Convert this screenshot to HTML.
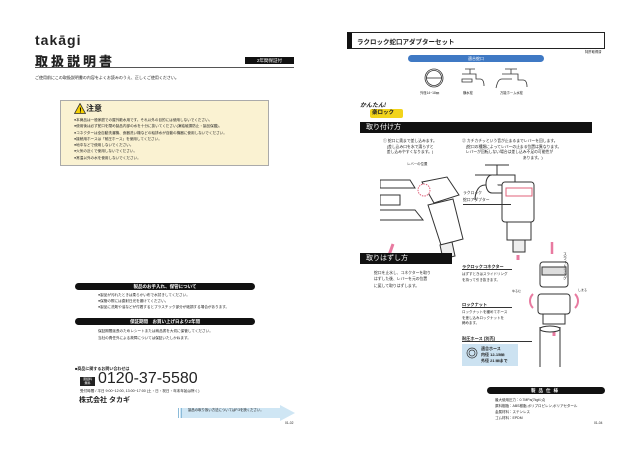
<!DOCTYPE html>
<html><head><meta charset="utf-8"><style>
*{margin:0;padding:0;box-sizing:border-box}
body{width:640px;height:452px;background:#fff;position:relative;overflow:hidden;font-family:"Liberation Sans","Noto Sans CJK JP",sans-serif;color:#222}
.a{position:absolute;white-space:nowrap}
.t{font-size:4px;line-height:5.5px}
.pill{position:absolute;background:#111;color:#fff;border-radius:4px;font-size:4.5px;text-align:center;font-weight:bold}
.bar{position:absolute;background:#111;color:#fff;font-size:7px;padding-left:6px}
</style></head><body>
<!-- LEFT PAGE -->
<div class="a" style="left:35px;top:32px;font-size:14px;font-weight:bold;letter-spacing:1px">takāgi</div>
<div class="a" style="left:35px;top:51px;font-size:13px;font-weight:900;letter-spacing:3px">取扱説明書</div>
<div class="a" style="left:245px;top:57px;width:49px;height:7px;background:#111;color:#fff;font-size:4.5px;text-align:center;line-height:7px">2年間保証付</div>
<div class="a" style="left:35px;top:67px;width:259px;height:1px;background:#555"></div>
<div class="a t" style="left:35px;top:75px">ご使用前にこの取扱説明書の内容をよくお読みのうえ、正しくご使用ください。</div>
<div class="a" style="left:60px;top:100px;width:209px;height:66px;background:#faf2d2;border:1px solid #aaa"></div>
<svg class="a" style="left:74px;top:103px" width="12" height="11"><polygon points="6,0.5 11.5,10.5 0.5,10.5" fill="#f5d000" stroke="#333" stroke-width="0.8"/><text x="5.2" y="9.5" font-size="7" font-weight="bold">!</text></svg>
<div class="a" style="left:86px;top:103px;font-size:8px;font-weight:bold">注意</div>
<div class="a t" style="left:74px;top:117px;font-size:3.6px;line-height:6.3px">●本商品は一般家庭での屋外散水用です。それ以外の目的には使用しないでください。<br>●使用後は必ず蛇口を閉め製品内部の水を十分に抜いてください(凍結破損防止・製品保護)。<br>●コネクターは全自動洗濯機、食器洗い機などの給排水が自動の機器に使用しないでください。<br>●接続用ホースは「耐圧ホース」を使用してください。<br>●地中などで使用しないでください。<br>●火気の近くで使用しないでください。<br>●常温以外の水を使用しないでください。</div>
<div class="pill" style="left:75px;top:283px;width:180px;height:7px;line-height:7px">製品のお手入れ、保管について</div>
<div class="a t" style="left:98px;top:292px;font-size:3.6px;line-height:6px">●製品が汚れたときは柔らかい布で水拭きしてください。<br>●保管の際には直射日光を避けてください。<br>●製品に洗剤や油などが付着するとプラスチック部分が破損する場合があります。</div>
<div class="pill" style="left:75px;top:318px;width:180px;height:7px;line-height:7px">保証期間　お買い上げ日より2年間</div>
<div class="a t" style="left:98px;top:328px;font-size:3.6px;line-height:6.5px">保証期間延長のためレシートまたは納品書を大切に保管してください。<br>当社の責任外による故障については保証いたしかねます。</div>
<div class="a t" style="left:75px;top:366px;font-weight:bold">■商品に関するお問い合わせは</div>
<div class="a" style="left:80px;top:377px;width:15px;height:9px;background:#222;color:#fff;font-size:3px;line-height:4px;text-align:center">通話料<br>無料</div>
<div class="a" style="left:98px;top:370px;font-size:16px">0120-37-5580</div>
<div class="a t" style="left:80px;top:389px;font-size:3.6px">受付時間 / 平日 9:00~12:00, 13:00~17:00 (土・日・祝日・年末年始は除く)</div>
<div class="a" style="left:79px;top:395px;font-size:7px;font-weight:bold">株式会社 タカギ</div>
<svg class="a" style="left:176px;top:405px" width="120" height="16"><polygon points="4,3 104,3 104,0 119,8 104,16 104,13 4,13" fill="#cfe6f4"/><rect x="2" y="3" width="1" height="10" fill="#8bbbd9"/><rect x="5" y="3" width="1" height="10" fill="#8bbbd9"/></svg>
<div class="a t" style="left:188px;top:408px;font-size:3.4px">製品の取り扱い方法についてはP.3を読ください。</div>
<div class="a t" style="left:285px;top:421px;font-size:3.3px">01-02</div>

<!-- RIGHT PAGE -->
<div class="a" style="left:347px;top:32px;width:258px;height:17px;border:1.5px solid #222;border-left:5px solid #111"></div>
<div class="a" style="left:357px;top:36px;font-size:6.5px;font-weight:bold">ラクロック蛇口アダプターセット</div>
<div class="a t" style="left:585px;top:50px;font-size:3.3px">特許取得済</div>
<div class="a" style="left:408px;top:55px;width:136px;height:7px;background:#3f79c4;border-radius:4px;color:#fff;font-size:4px;text-align:center;line-height:7px">適合蛇口</div>
<svg class="a" style="left:420px;top:65px" width="110" height="27" fill="none" stroke="#333" stroke-width="0.8">
<circle cx="14" cy="13" r="9"/><circle cx="14" cy="13" r="7.5"/><line x1="6" y1="13" x2="22" y2="13"/>
<path d="M45 4h10M50 4v5M42 9h14v5h4c3 0 4 3 4 7M42 14h10v3h-10z"/>
<path d="M85 4h12M91 4v5M82 9h16v6h5c3 0 4 3 4 7M82 14h10M82 14c-4 0-5 5-6 9"/>
</svg>
<div class="a t" style="left:420px;top:91px;font-size:3.3px">外径14~18㎜</div>
<div class="a t" style="left:463px;top:91px;font-size:3.3px">横水栓</div>
<div class="a t" style="left:500px;top:91px;font-size:3.3px">万能ホーム水栓</div>
<div class="a" style="left:360px;top:100px;width:40px;height:8px;font-size:6px;font-weight:bold;font-style:italic">かんたん!</div>
<div class="a" style="left:370px;top:109px;width:33px;height:9px;background:#f2d41b;border-radius:2px;font-size:5.5px;font-weight:bold;padding-left:2px;line-height:9px">楽ロック</div>
<div class="bar" style="left:360px;top:122px;width:232px;height:11px;line-height:11px">取り付け方</div>
<div class="a t" style="left:383px;top:139px;font-size:3.8px;line-height:5.5px">① 蛇口に奥まで差し込みます。<br>　(差し込み口を水で濡らすと<br>　差し込みやすくなります。)</div>
<div class="a t" style="left:462px;top:139px;font-size:3.8px;line-height:5.5px">② カチカチッという音が止まるまでレバーを回します。<br>　(蛇口の種類によってレバーの止まる位置は異なります。<br>　レバーが回転しない場合は差し込み不足の可能性が<br>　　　　　　　　　　　　　　　　あります。)</div>
<div class="a t" style="left:407px;top:162px;font-size:3.4px">レバーの位置</div>
<svg class="a" style="left:380px;top:160px" width="220" height="100" fill="#fff" stroke="#333" stroke-width="1">
<path d="M0 20h30l5 8h-35z M0 35h20v10h-20z M0 50h35l8 10h-43"/>
<path d="M42 22l25-5 12 18-25 8z"/>
<path d="M48 45l25-6 10 40-22 6z"/>
<path d="M60 85l12-3 3 14-12 3z" fill="#eee"/>
<circle cx="44" cy="30" r="6" stroke="#e0607a" stroke-dasharray="1.5 1"/>
<path d="M8 98l5-14" stroke="#e87aa0" stroke-width="3"/>
<path d="M105 5h24M117 5v10M95 15h40v10h-30c-8 0-10 10-10 15" />
<path d="M112 15c-8 0-8 18 0 18h10"/>
<rect x="122" y="22" width="32" height="40" rx="3"/>
<rect x="126" y="28" width="26" height="8" stroke="#e0607a"/>
<rect x="127" y="62" width="24" height="18"/>
<rect x="133" y="80" width="12" height="12" fill="#eee"/>
<path d="M138 95v5" stroke="#e87aa0" stroke-width="3"/>
</svg>
<div class="a t" style="left:463px;top:190px;font-size:3.8px;line-height:7px">ラクロック<br>蛇口アダプター</div>
<div class="a" style="left:463px;top:204px;width:48px;height:0.6px;background:#333"></div>
<div class="bar" style="left:360px;top:253px;width:92px;height:11px;line-height:11px">取りはずし方</div>
<div class="a t" style="left:374px;top:270px;font-size:3.8px;line-height:6.3px">蛇口を止水し、コネクターを取り<br>はずした後、レバーを元の位置<br>に戻して取りはずします。</div>
<div class="a t" style="left:462px;top:264px;font-size:4.2px;font-weight:bold">ラクロックコネクター</div>
<div class="a" style="left:462px;top:269px;width:50px;height:0.6px;background:#333"></div>
<div class="a t" style="left:462px;top:272px;font-size:3.5px">はずすときはスライドリング<br>を持って引き抜きます。</div>
<div class="a t" style="left:462px;top:302px;font-size:4.2px;font-weight:bold">ロックナット</div>
<div class="a" style="left:462px;top:307px;width:50px;height:0.6px;background:#333"></div>
<div class="a t" style="left:462px;top:310px;font-size:3.5px">ロックナットを緩めてホース<br>を差し込みロックナットを<br>締めます。</div>
<div class="a t" style="left:462px;top:336px;font-size:4.2px;font-weight:bold">耐圧ホース (別売)</div>
<div class="a" style="left:462px;top:341px;width:70px;height:0.6px;background:#333"></div>
<div class="a" style="left:462px;top:344px;width:56px;height:22px;background:#cce2f1"></div>
<div class="a t" style="left:481px;top:346px;font-size:4px;font-weight:bold;line-height:6px">適合ホース<br>内径 12-15㎜<br>外径 21 ㎜まで</div>
<svg class="a" style="left:464px;top:346px" width="16" height="18" fill="none" stroke="#333" stroke-width="0.7"><circle cx="8" cy="7" r="5"/><circle cx="8" cy="7" r="3"/></svg>
<svg class="a" style="left:525px;top:242px" width="80" height="125" fill="#fff" stroke="#333" stroke-width="1">
<path d="M27 0v12" stroke="#e87aa0" stroke-width="2.5"/>
<rect x="15" y="20" width="28" height="25" rx="3"/>
<rect x="17" y="25" width="24" height="8" fill="#ddd"/>
<rect x="13" y="52" width="32" height="20" rx="3"/>
<rect x="18" y="72" width="22" height="10"/>
<path d="M29 86v8" stroke="#e87aa0" stroke-width="3"/>
<path d="M15 85v40M35 85v40"/>
<ellipse cx="25" cy="87" rx="10" ry="3"/>
<path d="M8 52c-4 4-4 10 0 14M50 52c4 4 4 10 0 14" stroke="#e87aa0" stroke-width="2"/>
</svg>
<div class="a t" style="left:512px;top:289px;font-size:3px">ゆるむ</div>
<div class="a t" style="left:578px;top:288px;font-size:3px">しまる</div>
<div class="a" style="left:562px;top:252px;font-size:4px;writing-mode:vertical-rl">スライドリング</div>
<div class="pill" style="left:487px;top:387px;width:118px;height:7px;line-height:7px;letter-spacing:3px">製品仕様</div>
<div class="a t" style="left:495px;top:397px;font-size:3.5px;line-height:6px">最大使用圧力：0.7MPa(7kgf/㎠)<br>原料樹脂：ABS樹脂,ポリプロピレン,ポリアセタール<br>金属材料：ステンレス<br>ゴム材料：EPDM</div>
<div class="a t" style="left:594px;top:421px;font-size:3.3px">01-04</div>
</body></html>
